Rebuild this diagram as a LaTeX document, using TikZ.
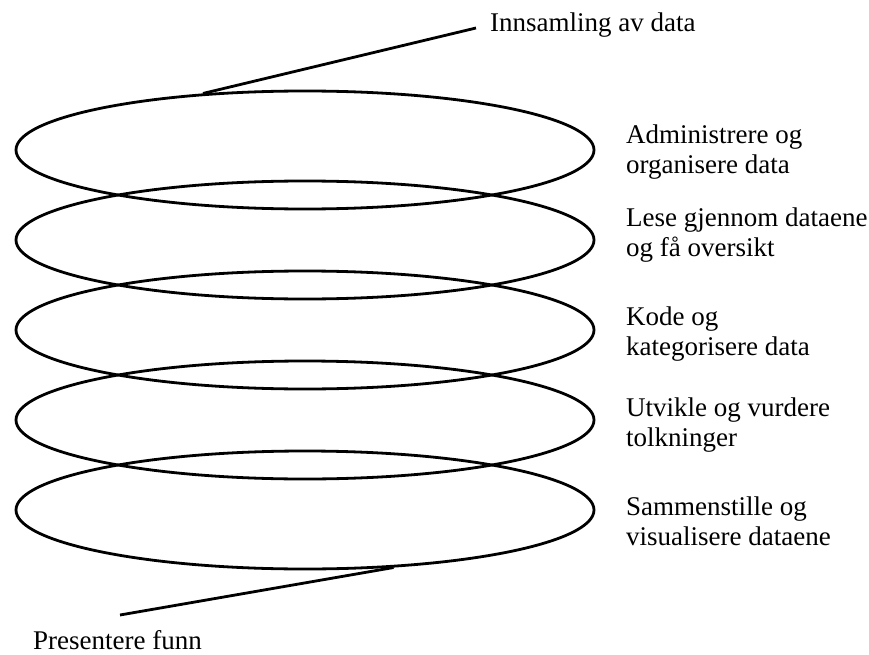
\documentclass[tikz,border=0pt]{standalone}
\usepackage{fontspec}
\setmainfont{Liberation Serif}
\usetikzlibrary{shapes.geometric}

\begin{document}
\begin{tikzpicture}[x=1pt,y=-1pt,
  ring/.style={draw, ellipse, line width=2.8pt, minimum width=578pt,
               minimum height=118pt, inner sep=0pt},
  lbl/.style={anchor=base west, align=left, inner sep=0pt,
              font=\fontsize{27}{30}\selectfont},
  lead/.style={line width=2.8pt}]
\useasboundingbox (0,0) rectangle (869,655);

% stacked rings of the spiral
\node[ring] (e1) at (305,150) {};
\node[ring] (e2) at (305,240) {};
\node[ring] (e3) at (305,330) {};
\node[ring] (e4) at (305,420) {};
\node[ring] (e5) at (305,510) {};

% step labels beside the rings (anchored at the baseline of the last line)
\node[lbl] (l1) at (626,174) {Administrere og\\organisere data};
\node[lbl] (l2) at (626,256.5) {Lese gjennom dataene\\og få oversikt};
\node[lbl] (l3) at (626,355) {Kode og\\kategorisere data};
\node[lbl] (l4) at (626,446) {Utvikle og vurdere\\tolkninger};
\node[lbl] (l5) at (626,545) {Sammenstille og\\visualisere dataene};

% entry and exit of the spiral
\node[lbl, inner xsep=14pt] (collect) at (476,32) {Innsamling av data};
\node[lbl] (present) at (33,649) {Presentere funn};
\coordinate (tail) at (120,615);

\draw[lead] (e1.151.97) -- ([yshift=4pt]collect.base west);
\draw[lead] (e5.327.65) -- (tail);
\end{tikzpicture}
\end{document}
